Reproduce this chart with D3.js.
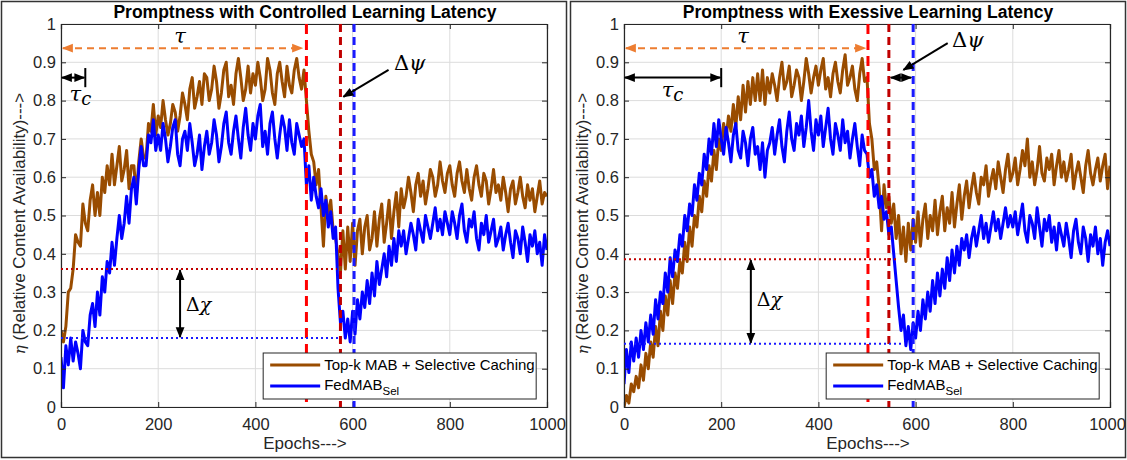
<!DOCTYPE html>
<html><head><meta charset="utf-8">
<script src="https://cdn.jsdelivr.net/npm/d3@7"></script>
<style>
html,body{margin:0;padding:0;background:#fff;}
svg{display:block;font-family:"Liberation Sans",Arial,sans-serif;}
</style></head>
<body><svg id="chart" width="1127" height="460"></svg>
<script>
// ---- data (epochs sampled every 5) ----
const epochs = d3.range(0, 1001, 5);
const xTicks = [0, 200, 400, 600, 800, 1000];
const yTicks = [0, 0.1, 0.2, 0.3, 0.4, 0.5, 0.6, 0.7, 0.8, 0.9, 1];
const titles = ["Promptness with Controlled Learning Latency", "Promptness with Exessive Learning Latency"];
const seriesNames = ["Top-k MAB + Selective Caching", "FedMAB"];

const leftTopK = [
0.20,0.17,0.21,0.30,0.31,0.36,0.45,0.43,0.42,0.53,0.48,0.46,0.54,0.58,0.50,0.56,0.50,0.60,0.56,0.63,
0.58,0.66,0.58,0.63,0.68,0.59,0.62,0.67,0.57,0.63,0.63,0.55,0.64,0.70,0.65,0.65,0.74,0.72,0.79,0.71,
0.76,0.73,0.80,0.75,0.71,0.74,0.79,0.77,0.72,0.76,0.82,0.79,0.75,0.83,0.86,0.78,0.81,0.85,0.79,0.87,
0.86,0.80,0.83,0.89,0.85,0.78,0.82,0.88,0.90,0.81,0.84,0.79,0.87,0.91,0.86,0.80,0.83,0.89,0.82,0.87,
0.84,0.90,0.86,0.80,0.83,0.91,0.88,0.82,0.79,0.87,0.90,0.85,0.81,0.89,0.84,0.82,0.88,0.91,0.86,0.83,
0.88,0.80,0.72,0.66,0.64,0.58,0.62,0.52,0.42,0.55,0.50,0.54,0.46,0.44,0.40,0.35,0.46,0.36,0.47,0.38,
0.48,0.37,0.46,0.49,0.40,0.47,0.50,0.41,0.44,0.51,0.42,0.49,0.53,0.43,0.48,0.54,0.44,0.51,0.56,0.47,
0.57,0.52,0.55,0.60,0.56,0.51,0.58,0.61,0.55,0.59,0.53,0.57,0.62,0.60,0.55,0.58,0.64,0.59,0.56,0.61,
0.63,0.58,0.55,0.61,0.64,0.59,0.56,0.62,0.57,0.54,0.60,0.63,0.58,0.55,0.61,0.59,0.53,0.57,0.62,0.56,
0.58,0.54,0.60,0.56,0.51,0.57,0.59,0.53,0.56,0.60,0.55,0.52,0.58,0.54,0.57,0.51,0.55,0.59,0.53,0.56,
0.55];
const leftFed = [
0.13,0.05,0.16,0.11,0.18,0.12,0.17,0.14,0.10,0.20,0.17,0.16,0.24,0.27,0.21,0.30,0.24,0.34,0.30,0.38,
0.35,0.43,0.37,0.44,0.50,0.44,0.48,0.55,0.48,0.57,0.60,0.53,0.62,0.68,0.63,0.63,0.71,0.69,0.75,0.67,
0.71,0.67,0.74,0.70,0.64,0.68,0.73,0.75,0.66,0.63,0.70,0.72,0.67,0.74,0.69,0.63,0.66,0.71,0.62,0.68,
0.72,0.66,0.69,0.75,0.71,0.64,0.68,0.74,0.77,0.69,0.66,0.72,0.76,0.70,0.65,0.73,0.78,0.71,0.67,0.74,
0.70,0.76,0.79,0.68,0.72,0.66,0.74,0.77,0.70,0.65,0.71,0.76,0.73,0.67,0.75,0.69,0.66,0.74,0.71,0.68,
0.70,0.58,0.63,0.54,0.60,0.55,0.52,0.57,0.50,0.54,0.47,0.51,0.44,0.47,0.31,0.22,0.25,0.18,0.23,0.17,
0.25,0.19,0.28,0.23,0.30,0.26,0.33,0.27,0.35,0.29,0.38,0.32,0.36,0.40,0.34,0.42,0.37,0.44,0.38,0.46,
0.42,0.46,0.40,0.44,0.48,0.45,0.41,0.49,0.46,0.43,0.50,0.47,0.44,0.48,0.52,0.46,0.49,0.45,0.51,0.48,
0.45,0.51,0.48,0.44,0.50,0.53,0.46,0.43,0.49,0.47,0.51,0.44,0.41,0.48,0.45,0.50,0.43,0.46,0.49,0.42,
0.44,0.47,0.41,0.45,0.48,0.43,0.39,0.46,0.44,0.40,0.47,0.43,0.38,0.45,0.42,0.46,0.40,0.43,0.37,0.45,
0.41];
const rightTopK = [
0.00,0.03,0.01,0.06,0.04,0.08,0.05,0.11,0.07,0.14,0.10,0.17,0.13,0.21,0.16,0.25,0.20,0.29,0.24,0.33,
0.27,0.35,0.31,0.38,0.35,0.43,0.38,0.47,0.42,0.50,0.47,0.55,0.51,0.59,0.55,0.63,0.59,0.67,0.62,0.70,
0.67,0.74,0.70,0.76,0.72,0.79,0.73,0.81,0.75,0.84,0.77,0.85,0.79,0.86,0.80,0.87,0.80,0.88,0.79,0.86,
0.82,0.87,0.84,0.80,0.86,0.90,0.83,0.85,0.89,0.81,0.84,0.88,0.86,0.80,0.85,0.91,0.87,0.82,0.86,0.89,
0.84,0.88,0.91,0.83,0.86,0.81,0.87,0.90,0.85,0.82,0.88,0.92,0.84,0.86,0.89,0.83,0.80,0.87,0.91,0.85,
0.86,0.74,0.70,0.62,0.64,0.57,0.46,0.58,0.52,0.55,0.48,0.53,0.44,0.50,0.40,0.47,0.38,0.48,0.41,0.49,
0.43,0.51,0.42,0.49,0.53,0.44,0.50,0.46,0.54,0.45,0.51,0.55,0.46,0.52,0.48,0.56,0.47,0.53,0.58,0.49,
0.55,0.59,0.52,0.57,0.61,0.56,0.53,0.60,0.58,0.63,0.55,0.59,0.62,0.57,0.64,0.60,0.56,0.62,0.66,0.59,
0.61,0.65,0.58,0.62,0.67,0.63,0.70,0.60,0.64,0.58,0.62,0.68,0.61,0.59,0.65,0.62,0.66,0.58,0.63,0.67,
0.60,0.64,0.59,0.62,0.66,0.57,0.61,0.64,0.60,0.56,0.63,0.67,0.61,0.58,0.62,0.65,0.59,0.63,0.66,0.57,
0.63];
const rightFed = [
0.06,0.15,0.09,0.17,0.12,0.18,0.13,0.20,0.15,0.22,0.17,0.24,0.19,0.28,0.23,0.30,0.27,0.35,0.30,0.39,
0.34,0.41,0.38,0.45,0.42,0.50,0.46,0.53,0.50,0.58,0.54,0.61,0.58,0.66,0.62,0.70,0.66,0.74,0.68,0.75,
0.70,0.66,0.73,0.69,0.64,0.71,0.74,0.67,0.65,0.72,0.69,0.63,0.70,0.73,0.66,0.68,0.62,0.69,0.60,0.67,
0.69,0.73,0.66,0.71,0.75,0.68,0.64,0.72,0.77,0.70,0.67,0.74,0.71,0.76,0.68,0.73,0.80,0.72,0.67,0.75,
0.71,0.76,0.68,0.73,0.78,0.70,0.66,0.74,0.71,0.67,0.75,0.69,0.72,0.65,0.70,0.74,0.68,0.63,0.71,0.67,
0.66,0.60,0.62,0.55,0.58,0.52,0.55,0.49,0.51,0.45,0.47,0.40,0.33,0.26,0.20,0.24,0.16,0.21,0.15,0.22,
0.18,0.25,0.20,0.28,0.23,0.30,0.25,0.33,0.27,0.35,0.29,0.36,0.31,0.39,0.33,0.41,0.35,0.42,0.37,0.44,
0.41,0.45,0.39,0.44,0.47,0.42,0.46,0.50,0.44,0.48,0.43,0.47,0.51,0.46,0.49,0.44,0.48,0.52,0.47,0.50,
0.47,0.51,0.45,0.49,0.53,0.46,0.43,0.50,0.48,0.44,0.52,0.47,0.42,0.49,0.46,0.50,0.43,0.47,0.41,0.48,
0.45,0.42,0.48,0.44,0.39,0.46,0.49,0.43,0.40,0.47,0.44,0.38,0.45,0.42,0.47,0.40,0.44,0.37,0.43,0.46,
0.42];

const panels = [
  { frame:[1,1,565,456], plot:[61,24,547,407], title:titles[0], topk:leftTopK, fed:leftFed,
    tauY:0.937, tauEnd:500, tauLbl:[245,0.95],
    tcEnd:50, tcY:0.86, tcLbl:[40,0.80],
    vRed:505, vDark:575, vBlue:603,
    hRed:0.36, hRedEnd:568, hBlue:0.18, hBlueEnd:573,
    chiX:245, chiLbl:[257,0.25],
    psiFrom:[674,0.88], psiTo:[581,0.81], psiLbl:[685,0.88], psiDouble:false },
  { frame:[570,1,555,456], plot:[624,24,1110,407], title:titles[1], topk:rightTopK, fed:rightFed,
    tauY:0.937, tauEnd:500, tauLbl:[245,0.95],
    tcEnd:200, tcY:0.86, tcLbl:[100,0.81],
    vRed:502, vDark:545, vBlue:595,
    hRed:0.386, hRedEnd:562, hBlue:0.165, hBlueEnd:574,
    chiX:261, chiLbl:[273,0.265],
    psiFrom:[666,0.95], psiTo:[575,0.88], psiLbl:[675,0.94], psiDouble:true }
];

const svg = d3.select("#chart");
const defs = svg.append("defs");
function marker(id, color, dir){
  const m = defs.append("marker").attr("id", id).attr("viewBox","0 0 10 10")
    .attr("refX", dir === "end" ? 9 : 1).attr("refY",5)
    .attr("markerWidth", 11).attr("markerHeight", 11).attr("markerUnits","userSpaceOnUse")
    .attr("orient","auto");
  m.append("path").attr("d", dir === "end" ? "M0,1 L10,5 L0,9 Z" : "M10,1 L0,5 L10,9 Z").attr("fill", color);
}
marker("oEnd","#ed7d31","end"); marker("oStart","#ed7d31","start");
marker("kEnd","#000","end"); marker("kStart","#000","start");

panels.forEach((p, pi) => {
  const g = svg.append("g");
  g.append("rect").attr("x",p.frame[0]+0.5).attr("y",p.frame[1]+0.5)
    .attr("width",p.frame[2]).attr("height",p.frame[3])
    .attr("fill","#fff").attr("stroke","#333").attr("stroke-width",1.5);
  const [x0,y0,x1,y1] = p.plot;
  const x = d3.scaleLinear().domain([0,1000]).range([x0,x1]);
  const y = d3.scaleLinear().domain([0,1]).range([y1,y0]);

  // grid
  g.append("g").selectAll("line").data(xTicks).join("line")
    .attr("x1",d=>x(d)).attr("x2",d=>x(d)).attr("y1",y0).attr("y2",y1)
    .attr("stroke","#dcdcdc").attr("stroke-width",1);
  g.append("g").selectAll("line").data(yTicks).join("line")
    .attr("y1",d=>y(d)).attr("y2",d=>y(d)).attr("x1",x0).attr("x2",x1)
    .attr("stroke","#dcdcdc").attr("stroke-width",1);

  const clipId = "clip"+pi;
  defs.append("clipPath").attr("id",clipId).append("rect")
    .attr("x",x0).attr("y",y0).attr("width",x1-x0).attr("height",y1-y0);
  const dg = g.append("g").attr("clip-path",`url(#${clipId})`);
  const line = d3.line().x((d,i)=>x(epochs[i])).y(d=>y(d));
  dg.append("path").datum(p.topk).attr("d",line).attr("fill","none")
    .attr("stroke","#994c00").attr("stroke-width",3).attr("stroke-linejoin","round");
  dg.append("path").datum(p.fed).attr("d",line).attr("fill","none")
    .attr("stroke","#0000ff").attr("stroke-width",3).attr("stroke-linejoin","round");

  // axes
  const ax = g.append("g").attr("transform",`translate(0,${y1})`)
    .call(d3.axisBottom(x).tickValues(xTicks).tickSize(-5).tickPadding(11).tickFormat(d3.format("d")));
  const axT = g.append("g").attr("transform",`translate(0,${y0})`)
    .call(d3.axisTop(x).tickValues(xTicks).tickSize(-5).tickFormat(""));
  const ay = g.append("g").attr("transform",`translate(${x0},0)`)
    .call(d3.axisLeft(y).tickValues(yTicks).tickSize(-5).tickPadding(5).tickFormat(d=>d===0||d===1?String(d):d3.format(".1f")(d)));
  const ayR = g.append("g").attr("transform",`translate(${x1},0)`)
    .call(d3.axisRight(y).tickValues(yTicks).tickSize(-5).tickFormat(""));
  [ax,axT,ay,ayR].forEach(a=>{
    a.select(".domain").attr("stroke","#262626").attr("stroke-width",1.2);
    a.selectAll(".tick line").attr("stroke","#262626");
    a.selectAll(".tick text").attr("fill","#262626").style("font-size","16.5px")
      .style("font-family","'Liberation Sans',Arial,sans-serif");
  });
  if (pi === 1) ax.selectAll(".tick text").filter(d=>d===1000).attr("dx",-3);

  // title & labels
  const cx = (x0+x1)/2;
  g.append("text").attr("x",cx+1).attr("y",18).attr("text-anchor","middle")
    .style("font-size","17.5px").style("font-weight","bold").attr("fill","#000").text(p.title);
  g.append("text").attr("x",cx+1).attr("y",449).attr("text-anchor","middle")
    .style("font-size","17px").attr("fill","#262626").text("Epochs--->");
  const yl = g.append("text").attr("transform",`translate(${x0-36},${(y0+y1)/2+8}) rotate(-90)`)
    .attr("text-anchor","middle").style("font-size","17px").attr("fill","#262626");
  yl.append("tspan").style("font-family","'DejaVu Serif',serif").style("font-style","italic").style("font-size","15px").text("η");
  yl.append("tspan").text(" (Relative Content Availability)--->");

  // annotations
  const an = g.append("g");
  const mathFont = "'DejaVu Serif','Liberation Serif',serif";
  an.append("line").attr("x1",x(0)+2).attr("x2",x(p.tauEnd)-2).attr("y1",y(p.tauY)).attr("y2",y(p.tauY))
    .attr("stroke","#ed7d31").attr("stroke-width",2).attr("stroke-dasharray","7,5")
    .attr("marker-start","url(#oStart)").attr("marker-end","url(#oEnd)");
  an.append("text").attr("x",x(p.tauLbl[0])).attr("y",y(p.tauLbl[1])).attr("text-anchor","middle")
    .style("font-family",mathFont).style("font-style","italic").style("font-size","21px").text("τ");
  an.append("line").attr("x1",x(0)+1).attr("x2",x(p.tcEnd)-1).attr("y1",y(p.tcY)).attr("y2",y(p.tcY))
    .attr("stroke","#000").attr("stroke-width",2)
    .attr("marker-start","url(#kStart)").attr("marker-end","url(#kEnd)");
  an.append("line").attr("x1",x(p.tcEnd)).attr("x2",x(p.tcEnd)).attr("y1",y(p.tcY+0.025)).attr("y2",y(p.tcY-0.025))
    .attr("stroke","#000").attr("stroke-width",2);
  const tl = an.append("text").attr("x",x(p.tcLbl[0])).attr("y",y(p.tcLbl[1])).attr("text-anchor","middle")
    .style("font-family",mathFont).style("font-style","italic").style("font-size","21px");
  tl.append("tspan").text("τ");
  tl.append("tspan").attr("dy",4).style("font-size","18px").text("c");
  [[p.vRed,"#ff0000","10,6"],[p.vDark,"#c00000","8,5"],[p.vBlue,"#1a1aff","8,5"]].forEach(([v,c,da])=>{
    an.append("line").attr("x1",x(v)).attr("x2",x(v)).attr("y1",y0).attr("y2",y1)
      .attr("stroke",c).attr("stroke-width",3).attr("stroke-dasharray",da);
  });
  an.append("line").attr("x1",x0).attr("x2",x(p.hRedEnd)).attr("y1",y(p.hRed)).attr("y2",y(p.hRed))
    .attr("stroke","#c00000").attr("stroke-width",2).attr("stroke-dasharray","2,3");
  an.append("line").attr("x1",x0).attr("x2",x(p.hBlueEnd)).attr("y1",y(p.hBlue)).attr("y2",y(p.hBlue))
    .attr("stroke","#1a1aff").attr("stroke-width",2).attr("stroke-dasharray","2,3");
  an.append("line").attr("x1",x(p.chiX)).attr("x2",x(p.chiX)).attr("y1",y(p.hRed)+1).attr("y2",y(p.hBlue)-1)
    .attr("stroke","#000").attr("stroke-width",2)
    .attr("marker-start","url(#kStart)").attr("marker-end","url(#kEnd)");
  an.append("text").attr("x",x(p.chiLbl[0])).attr("y",y(p.chiLbl[1])).style("font-family",mathFont)
    .style("font-size","19px").html('Δ<tspan font-style="italic">χ</tspan>');
  an.append("line").attr("x1",x(p.psiFrom[0])).attr("y1",y(p.psiFrom[1])).attr("x2",x(p.psiTo[0])).attr("y2",y(p.psiTo[1]))
    .attr("stroke","#000").attr("stroke-width",2).attr("marker-end","url(#kEnd)");
  an.append("text").attr("x",x(p.psiLbl[0])).attr("y",y(p.psiLbl[1])).style("font-family",mathFont)
    .style("font-size","21px").html('Δ<tspan font-style="italic">ψ</tspan>');
  if (p.psiDouble) {
    an.append("line").attr("x1",x(p.vDark)+2).attr("x2",x(p.vBlue)-2).attr("y1",y(0.86)).attr("y2",y(0.86))
      .attr("stroke","#000").attr("stroke-width",2)
      .attr("marker-start","url(#kStart)").attr("marker-end","url(#kEnd)");
  }

  // legend
  const lx = x0 + (x1-x0)*0.416, ly = y1 - 54;
  const lg = g.append("g");
  lg.append("rect").attr("x",lx).attr("y",ly).attr("width",273).attr("height",46)
    .attr("fill","#fff").attr("stroke","#262626").attr("stroke-width",1);
  lg.append("line").attr("x1",lx+7).attr("x2",lx+57).attr("y1",ly+12).attr("y2",ly+12)
    .attr("stroke","#994c00").attr("stroke-width",3);
  lg.append("line").attr("x1",lx+7).attr("x2",lx+57).attr("y1",ly+33).attr("y2",ly+33)
    .attr("stroke","#0000ff").attr("stroke-width",3);
  lg.append("text").attr("x",lx+61).attr("y",ly+17).style("font-size","15px").attr("fill","#000").text(seriesNames[0]);
  const t2 = lg.append("text").attr("x",lx+61).attr("y",ly+37).style("font-size","15px").attr("fill","#000");
  t2.append("tspan").text(seriesNames[1]);
  t2.append("tspan").attr("dy",5).style("font-size","11.5px").text("Sel");
});
</script></body></html>
